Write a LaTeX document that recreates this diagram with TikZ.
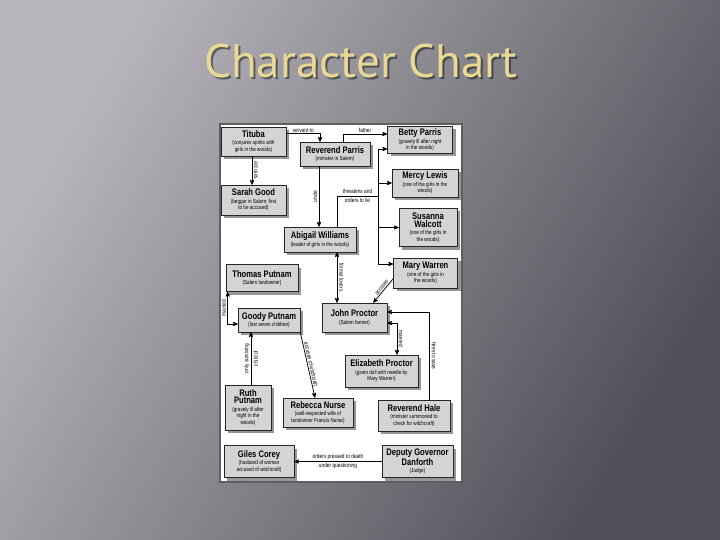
\documentclass[tikz,border=0pt]{standalone}
\usepackage{fontspec}
\newfontfamily\chartfont{Liberation Sans}[FakeStretch=0.8]
\newfontfamily\titlefont{PT Sans}
\usetikzlibrary{arrows,shadows}

\definecolor{boxgray}{RGB}{212,212,212}
\definecolor{shadowgray}{RGB}{150,150,150}
\definecolor{framegray}{RGB}{95,95,95}
\definecolor{titlegold}{RGB}{232,216,150}
\definecolor{bgL}{RGB}{184,182,188}
\definecolor{bgR}{RGB}{80,78,86}

\newcommand{\charname}[1]{{\chartfont\bfseries\fontsize{9.5}{10}\selectfont #1}}

\begin{document}
\begin{tikzpicture}
[-,>=stealth',x=1pt,y=-1pt,line width=0.75pt,
                    main node/.style={rectangle,draw=black!85,line width=0.6pt,fill=boxgray,align=center,inner sep=1.5pt,
                      drop shadow={shadow xshift=3pt,shadow yshift=-3pt,fill=shadowgray,opacity=1},
                      font=\chartfont\fontsize{5.8}{6.6}\selectfont},
                    link text/.style={font=\chartfont\fontsize{6}{6.6}\selectfont,inner sep=1pt,align=center}]

  \useasboundingbox (0,0) rectangle (720,540);
  \shade[top color=bgL,bottom color=bgR,shading angle=60] (0,0) rectangle (720,540);

  \node[text=black,opacity=0.45,font=\titlefont\fontsize{47}{47}\selectfont] (0s) at (363,63) {Character Chart};
  \node[text=titlegold,font=\titlefont\fontsize{47}{47}\selectfont] (0) at (361,61) {Character Chart};

  \draw[draw=framegray,line width=2pt,fill=white] (220,124) rectangle (462,482);

  \node[main node,minimum width=65pt,minimum height=29pt] (1) at (253.5,141.5) {\charname{Tituba}\\[1pt](conjures spirits with\\girls in the woods)};
  \node[main node,minimum width=65pt,minimum height=27pt] (2) at (420,140) {\charname{Betty Parris}\\[1pt](gravely ill after night\\in the woods)};
  \node[main node,minimum width=70pt,minimum height=24pt] (3) at (335,154) {\charname{Reverend Parris}\\[1pt](minister in Salem)};
  \node[main node,minimum width=66pt,minimum height=28pt] (4) at (425,183) {\charname{Mercy Lewis}\\[1pt](one of the girls in the\\woods)};
  \node[main node,minimum width=65pt,minimum height=30pt] (5) at (253.5,200) {\charname{Sarah Good}\\[1pt](beggar in Salem; first\\to be accused)};
  \node[main node,minimum width=58pt,minimum height=38pt] (6) at (428,227.5) {\charname{Susanna}\\\charname{Walcott}\\[1pt](one of the girls in\\the woods)};
  \node[main node,minimum width=72pt,minimum height=25pt] (7) at (320,239.5) {\charname{Abigail Williams}\\[1pt](leader of girls in the woods)};
  \node[main node,minimum width=64pt,minimum height=30pt] (8) at (425.5,273) {\charname{Mary Warren}\\[1pt](one of the girls in\\the woods)};
  \node[main node,minimum width=72pt,minimum height=27pt] (9) at (262,278) {\charname{Thomas Putnam}\\[1pt](Salem landowner)};
  \node[main node,minimum width=62pt,minimum height=24pt] (10) at (269,320) {\charname{Goody Putnam}\\[1pt](lost seven children)};
  \node[main node,minimum width=65pt,minimum height=29pt] (11) at (354.5,317.5) {\charname{John Proctor}\\[1pt](Salem farmer)};
  \node[main node,minimum width=73pt,minimum height=32pt] (12) at (381.5,371) {\charname{Elizabeth Proctor}\\[1pt](given doll with needle by\\Mary Warren)};
  \node[main node,minimum width=46pt,minimum height=45pt] (13) at (248,407.5) {\charname{Ruth}\\\charname{Putnam}\\[1pt](gravely ill after\\night in the\\woods)};
  \node[main node,minimum width=70pt,minimum height=29pt] (14) at (318,412.5) {\charname{Rebecca Nurse}\\[1pt](well-respected wife of\\landowner Francis Nurse)};
  \node[main node,minimum width=72pt,minimum height=31pt] (15) at (414,415.5) {\charname{Reverend Hale}\\[1pt](minister summoned to\\check for witchcraft)};
  \node[main node,minimum width=70pt,minimum height=32pt] (16) at (259,461.5) {\charname{Giles Corey}\\[1pt](husband of woman\\accused of witchcraft)};
  \node[main node,minimum width=71pt,minimum height=32pt] (17) at (417.5,461.5) {\charname{Deputy Governor}\\\charname{Danforth}\\[1pt](Judge)};

  \coordinate (t) at (378,196);
  \coordinate (2b) at ([yshift=-9pt]2.west);
  \coordinate (4b) at (4.west);
  \coordinate (6b) at (6.west);
  \coordinate (8b) at ([yshift=9pt]8.west);

  \draw[->] ([yshift=8pt]1.east) -| ([xshift=-15pt]3.north) node[link text,pos=0.25,above] {servant to};
  \draw[->] ([xshift=8pt]3.north) |- ([yshift=6pt]2.west) node[link text,pos=0.75,above] {father};
  \draw (t |- 2b) -- (t |- 8b);
  \foreach \n in {2b,4b,6b,8b}
    \draw[->] (t |- \n) -- (\n);
  \draw ([xshift=17pt]7.north) |- (t) node[link text,pos=0.75] {threatens and\\[3pt]orders to lie};
  \draw[->] ([xshift=-16pt]3.south) -- ([xshift=-16pt]3.south |- 7.north) node[link text,midway,xshift=-4pt,rotate=90] {uncle};
  \draw[->] ([xshift=-1.5pt]1.south) -- ([xshift=-1.5pt]1.south |- 5.north) node[link text,midway,xshift=4pt,rotate=-90] {accuses};
  \draw[<->] ([xshift=17pt]7.south) -- ([xshift=17pt]7.south |- 11.north) node[link text,midway,xshift=4.5pt,rotate=-90] {former lovers};
  \draw[->] (8.190) -- ([xshift=-14pt]11.north east) node[link text,pos=0.45,sloped,above] {accuses};
  \draw[<->] ([xshift=2pt]9.south west) |- ([yshift=-4pt]10.west) node[link text,pos=0.25,xshift=-4pt,rotate=90] {married};
  \draw[->] ([xshift=3pt]13.north) -- ([xshift=3pt]13.north |- 10.south) node[link text,midway,rotate=90] {only surviving\\[3pt]child of};
  \draw[->] (10.south east) -- ([xshift=-3pt]14.north) node[link text,midway,sloped,above] {accuses of witchcraft};
  \draw[<->] ([yshift=-5.5pt]11.east) -| ([xshift=15.5pt]12.north) node[link text,pos=0.75,xshift=4pt,rotate=-90] {married};
  \draw[->] ([xshift=15pt]15.north) |- ([yshift=5.5pt]11.east) node[link text,pos=0.25,xshift=5pt,rotate=-90] {hires to save};
  \path (17) edge[->] node[link text] {orders pressed to death\\[3pt]under questioning} (16);
\end{tikzpicture}
\end{document}
